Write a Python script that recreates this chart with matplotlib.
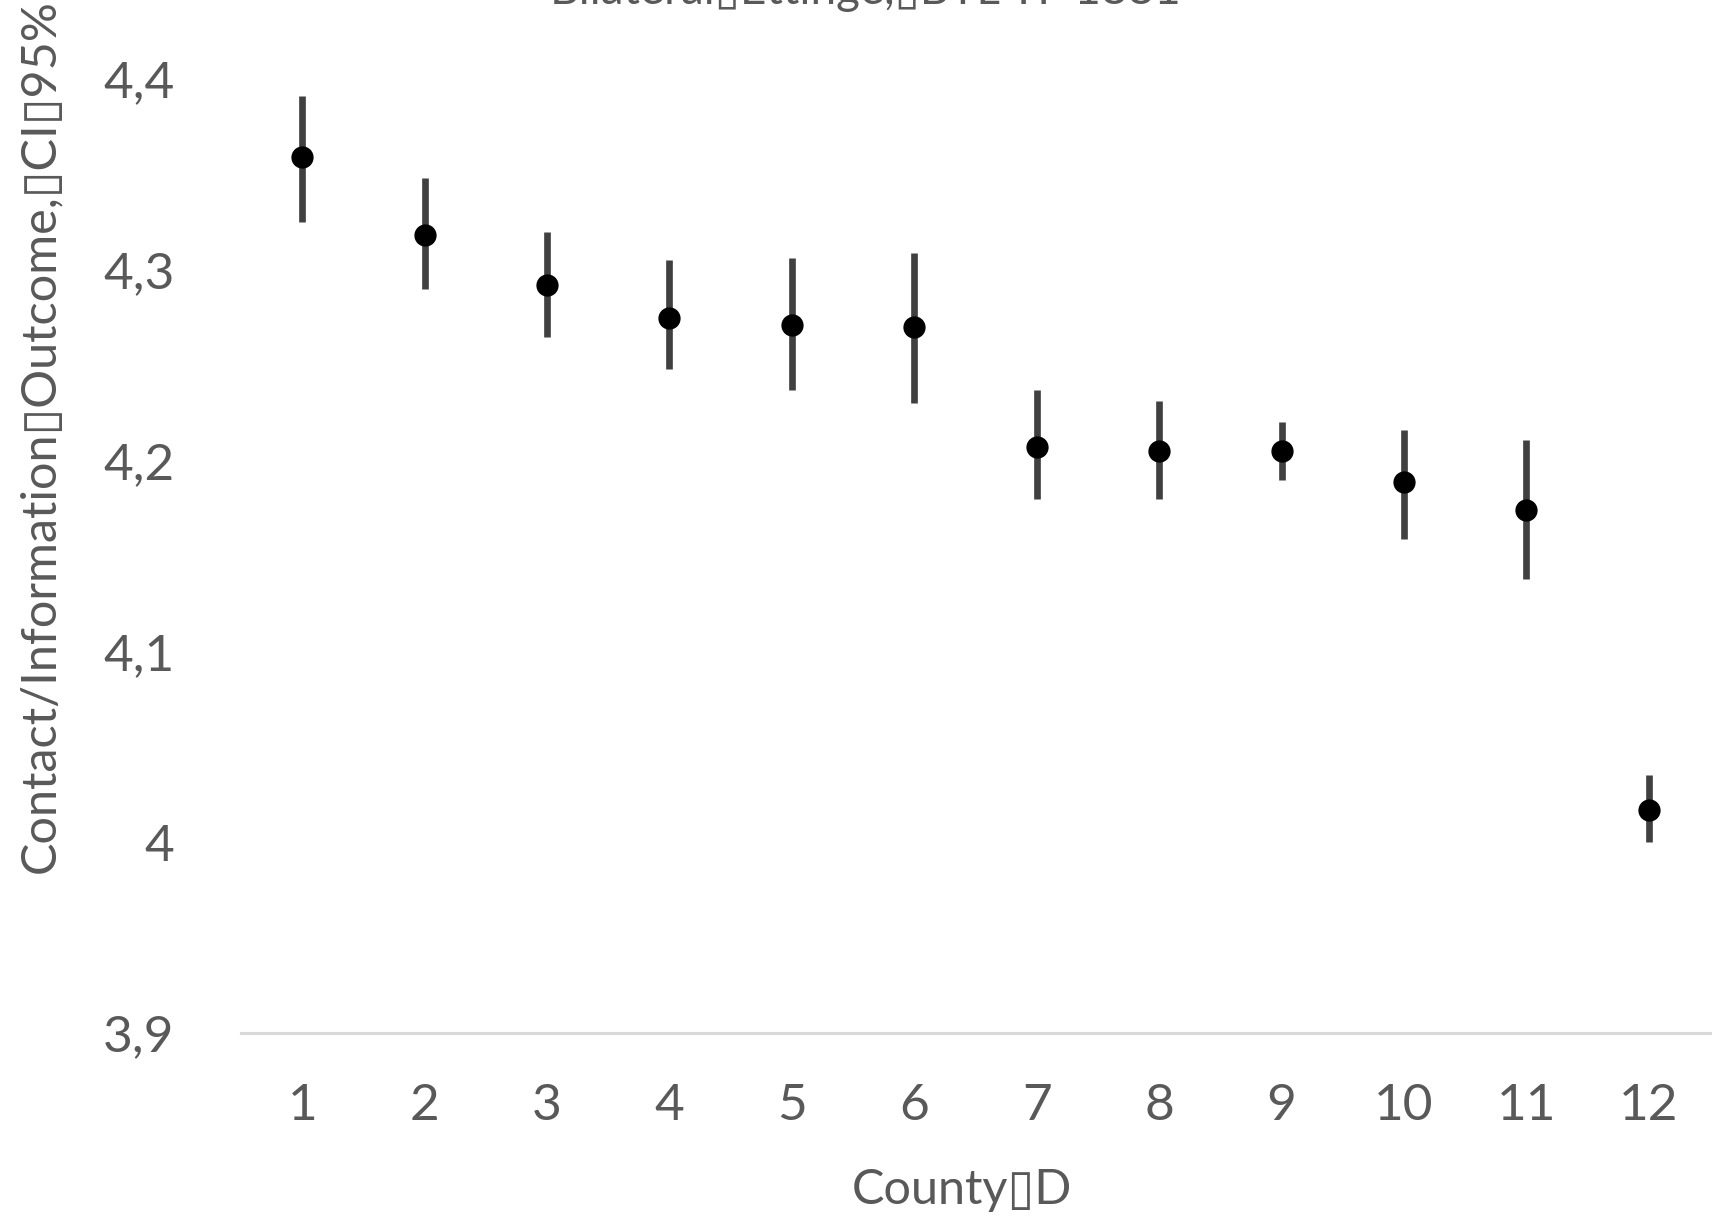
import matplotlib
matplotlib.use("Agg")
import matplotlib.pyplot as plt
import numpy as np

county_ids = ["1", "2", "3", "4", "5", "6", "7", "8", "9", "10", "11", "12"]
means = [4.359, 4.318, 4.292, 4.275, 4.271, 4.270, 4.207, 4.205, 4.205, 4.189, 4.174, 4.017]
ci_upper = [4.391, 4.348, 4.320, 4.305, 4.306, 4.309, 4.237, 4.231, 4.220, 4.216, 4.211, 4.035]
ci_lower = [4.325, 4.290, 4.265, 4.248, 4.237, 4.230, 4.180, 4.180, 4.190, 4.159, 4.138, 4.000]
y_ticks = [3.9, 4.0, 4.1, 4.2, 4.3, 4.4]
y_tick_labels = ["3,9", "4", "4,1", "4,2", "4,3", "4,4"]

BOX = "\u25AF"
title_text = "Bilateral" + BOX + "Ettinge," + BOX + "BTL-IT-1881"
xlabel_text = "County" + BOX + "D"
ylabel_text = "Contact/Information" + BOX + "Outcome," + BOX + "CI" + BOX + "95%"

plt.rcParams['font.family'] = ['Lato', 'DejaVu Sans']
txt = "#595959"

fig = plt.figure(figsize=(17.17, 12.25), dpi=100)
ax = fig.add_axes([0.1404, 0.1567, 0.8555, 0.7788])

x = np.arange(1, len(county_ids) + 1)
m = np.array(means)
yerr = np.vstack([m - np.array(ci_lower), np.array(ci_upper) - m])
ax.errorbar(x, m, yerr=yerr, fmt='none', ecolor='#404040', elinewidth=4.8, capsize=0, zorder=2)
ax.plot(x, m, 'o', color='black', markersize=15, zorder=3)

ax.set_xlim(0.5, 12.5)
ax.set_ylim(3.9, 4.4)
ax.set_xticks(x)
ax.set_xticklabels(county_ids)
ax.set_yticks(y_ticks)
ax.set_yticklabels(y_tick_labels)
ax.tick_params(axis='both', length=0, labelsize=37, colors=txt)
ax.tick_params(axis='x', pad=36)
ax.tick_params(axis='y', pad=48)
for s in ['top', 'right', 'left']:
    ax.spines[s].set_visible(False)
ax.spines['bottom'].set_color('#d9d9d9')
ax.spines['bottom'].set_linewidth(2.2)
ax.spines['bottom'].set_clip_on(False)

fig.text(0.560, 0.0286, xlabel_text, ha='center', va='center', fontsize=35, color=txt)
fig.text(0.0235, 0.6440, ylabel_text, ha='center', va='center', rotation=90, fontsize=35, color=txt)
fig.text(0.504, 0.9967, title_text, ha='center', va='baseline', fontsize=33, color=txt)

fig.savefig("out.png", dpi=100, facecolor='white')
